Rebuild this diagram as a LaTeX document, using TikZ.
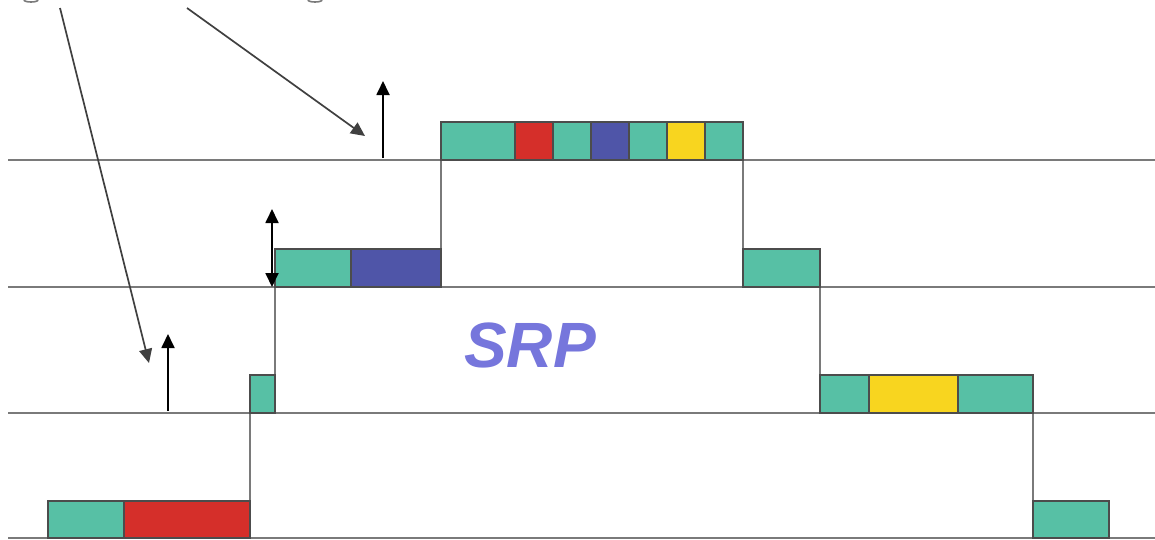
\documentclass[tikz,border=0pt]{standalone}
\usepackage{fontspec}
\newfontfamily\labelfont{Liberation Sans}
\usetikzlibrary{arrows.meta}
\definecolor{slotteal}{HTML}{57C0A5}
\definecolor{slotred}{HTML}{D52F2A}
\definecolor{slotblue}{HTML}{4F55A8}
\definecolor{slotyellow}{HTML}{F8D51F}
\definecolor{gridgray}{HTML}{7A7A7A}
\definecolor{srpviolet}{HTML}{7676DC}
\tikzset{
  slot/.style={draw=black!70, line width=1.4pt},
  level/.style={draw=gridgray, line width=1.7pt},
  riser/.style={draw=gridgray, line width=1.7pt},
  tip/.tip={Triangle[length=14pt,width=13pt]},
  lift/.style={draw=black, line width=1.8pt, -tip},
  pointer/.style={draw=black!75, line width=1.7pt, -tip},
}
\begin{document}
\begin{tikzpicture}[x=1pt,y=-1pt]
\useasboundingbox[fill=white] (0,0) rectangle (1155,539);

% priority levels
\draw[level] (8,160) -- (1155,160);
\draw[level] (8,287) -- (1155,287);
\draw[level] (8,413) -- (1155,413);
\draw[level] (8,538) -- (1155,538);

% ceiling risers
\draw[riser] (250,538) -- (250,375);
\draw[riser] (275,413) -- (275,249);
\draw[riser] (441,287) -- (441,122);
\draw[riser] (743,287) -- (743,122);
\draw[riser] (820,413) -- (820,249);
\draw[riser] (1033,538) -- (1033,375);

% lowest level
\draw[slot, fill=slotteal]   (48,501) rectangle (124,538);
\draw[slot, fill=slotred]    (124,501) rectangle (250,538);
\draw[slot, fill=slotteal]   (1033,501) rectangle (1109,538);

% third level
\draw[slot, fill=slotteal]   (250,375) rectangle (275,413);
\draw[slot, fill=slotteal]   (820,375) rectangle (869,413);
\draw[slot, fill=slotyellow] (869,375) rectangle (958,413);
\draw[slot, fill=slotteal]   (958,375) rectangle (1033,413);

% second level
\draw[slot, fill=slotteal]   (275,249) rectangle (351,287);
\draw[slot, fill=slotblue]   (351,249) rectangle (441,287);
\draw[slot, fill=slotteal]   (743,249) rectangle (820,287);

% top level
\draw[slot, fill=slotteal]   (441,122) rectangle (515,160);
\draw[slot, fill=slotred]    (515,122) rectangle (553,160);
\draw[slot, fill=slotteal]   (553,122) rectangle (591,160);
\draw[slot, fill=slotblue]   (591,122) rectangle (629,160);
\draw[slot, fill=slotteal]   (629,122) rectangle (667,160);
\draw[slot, fill=slotyellow] (667,122) rectangle (705,160);
\draw[slot, fill=slotteal]   (705,122) rectangle (743,160);

% ceiling changes
\coordinate (l1a) at (168,411); \coordinate (l1b) at (168,334);
\coordinate (l2a) at (272,287); \coordinate (l2b) at (272,209);
\coordinate (l3a) at (383,158); \coordinate (l3b) at (383,81);
\draw[lift] (l1a) -- (l1b);
\draw[lift, tip-tip] (l2a) -- (l2b);
\draw[lift] (l3a) -- (l3b);

% callout pointers
\coordinate (p1s) at (60,8);  \coordinate (p1e) at (149,363);
\coordinate (p2s) at (187,8); \coordinate (p2e) at (365,136);
\draw[pointer] (p1s) -- (p1e);
\draw[pointer] (p2s) -- (p2e);

% clipped letter tails along the top edge
\draw[gridgray, line width=1.6pt] (24,0) arc[start angle=180, end angle=360, x radius=7pt, y radius=2pt];
\draw[gridgray, line width=1.6pt] (308,0) arc[start angle=180, end angle=360, x radius=7pt, y radius=2pt];

\node[font=\labelfont\bfseries\itshape\fontsize{64}{64}\selectfont, text=srpviolet] (srp) at (530,345) {SRP};
\end{tikzpicture}
\end{document}
